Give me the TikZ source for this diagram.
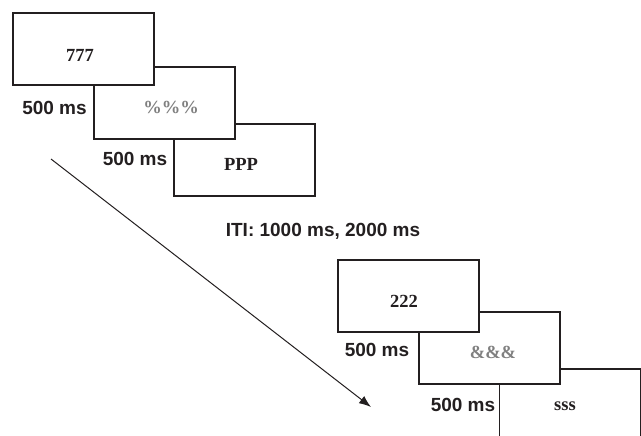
\documentclass[tikz,border=0pt]{standalone}
\usepackage{fontspec}
\setmainfont{Liberation Serif}
\setsansfont{Liberation Sans}
\usetikzlibrary{arrows.meta}
\definecolor{ink}{HTML}{231F20}
\definecolor{graytxt}{HTML}{808080}
\tikzset{
  screen/.style={draw=ink, fill=white, line width=1.3pt, minimum width=141pt, minimum height=72pt, inner sep=0pt, outer sep=0pt},
  stim/.style={font=\fontsize{18.5}{21}\selectfont\bfseries, text=ink, inner sep=0pt, text depth=0pt},
  graystim/.style={stim, text=graytxt},
  dur/.style={font=\fontsize{19}{22}\selectfont\sffamily\bfseries, text=ink, inner sep=0pt, text depth=0pt},
}
\begin{document}
\begin{tikzpicture}[x=1pt,y=-1pt]
\useasboundingbox (0,0) rectangle (641,436);
% first trial (back to front)
\node[screen] (b3) at (244.5,160) {};
\node[screen] (b2) at (164.5,103) {};
\node[screen] (b1) at (83.5,49) {};
\node[stim] (t1) at (80,55) {777};
\node[graystim] (t2) at (171,107) {\%\%\%};
\node[stim] (t3) at (241,164) {PPP};
\node[dur] (d1) at (54.5,108) {500 ms};
\node[dur] (d2) at (135,159) {500 ms};
% ITI
\node[dur] (iti) at (323,230) {ITI: 1000 ms, 2000 ms};
% second trial
\node[screen, minimum height=110pt] (b6) at (570,424) {};
\node[screen] (b5) at (489.5,348) {};
\node[screen] (b4) at (408.5,296) {};
\node[stim] (t4) at (404,301) {222};
\node[graystim] (t5) at (493,352) {\&\&\&};
\node[stim] (t6) at (565,406) {sss};
\node[dur] (d3) at (377,350) {500 ms};
\node[dur] (d4) at (463,404.5) {500 ms};
% time arrow
\coordinate (a0) at (51,159);
\coordinate (a1) at (371,407);
\draw[ink, line width=1pt, -{Latex[length=12pt,width=9pt]}] (a0) -- (a1);
\end{tikzpicture}
\end{document}
